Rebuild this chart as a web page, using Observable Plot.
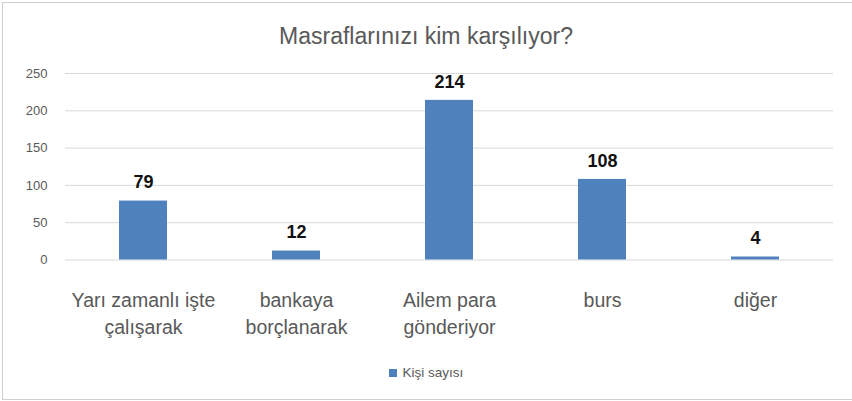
<!DOCTYPE html>
<html><head><meta charset="utf-8">
<script src="https://cdn.jsdelivr.net/npm/d3@7"></script>
<script src="https://cdn.jsdelivr.net/npm/@observablehq/plot@0.6"></script>
<style>
body{margin:0;background:#fff;font-family:"Liberation Sans",Arial,sans-serif;overflow:hidden;}
#frame{position:absolute;left:2px;top:2px;width:900px;height:396px;border:1px solid #d0d0d0;}
#title{position:absolute;left:0;top:24.5px;width:852px;text-align:center;font-size:23px;color:#595959;line-height:23px;white-space:nowrap;}
#chart{position:absolute;left:0;top:50px;}
#legend{position:absolute;top:365px;left:0;width:852px;text-align:center;font-size:13.5px;color:#595959;line-height:16px;white-space:nowrap;}
#legend .sw{display:inline-block;width:8px;height:8px;background:#4F81BD;margin-right:6px;position:relative;top:0px;}
</style></head>
<body>
<div id="frame"></div>
<div id="title"></div>
<div id="chart"></div>
<div id="legend"></div>
<script>
const titleText = "Masraflarınızı kim karşılıyor?";
const categories = ["Yarı zamanlı işte çalışarak","bankaya borçlanarak","Ailem para gönderiyor","burs","diğer"];
const tickLabels = ["Yarı zamanlı işte\nçalışarak","bankaya\nborçlanarak","Ailem para\ngönderiyor","burs","diğer"];
const values = [79,12,214,108,4];
const yTicks = [0,50,100,150,200,250];
const seriesName = "Kişi sayısı";

const data = categories.map((c,i)=>({category:c, value:values[i]}));
document.getElementById("title").textContent = titleText;
const lg = document.getElementById("legend");
lg.innerHTML = '<span class="sw"></span>';
lg.appendChild(document.createTextNode(seriesName));

const H = 300;
const chart = Plot.plot({
  width: 852, height: H,
  marginLeft: 65, marginRight: 19, marginTop: 23, marginBottom: H - 209.5,
  style: {color: "#595959", fontFamily: "'Liberation Sans', Arial, sans-serif", background: "transparent"},
  x: {domain: categories, paddingInner: 0.6875, paddingOuter: 0.34375, axis: null},
  y: {domain: [0, 250], axis: null},
  marks: [
    Plot.ruleY(yTicks, {stroke: "#d9d9d9"}),
    Plot.axisY({ticks: yTicks, tickSize: 0, tickPadding: 18, fontSize: 13, label: null}),
    Plot.axisX({tickFormat: d => tickLabels[categories.indexOf(d)], tickSize: 0, tickPadding: 27.5, fontSize: 19.5, lineHeight: 1.385, label: null}),
    Plot.barY(data, {x: "category", y: "value", fill: "#4F81BD"}),
    Plot.text(data, {x: "category", y: "value", text: d => String(d.value), lineAnchor: "bottom", dy: -12.6, fontWeight: "bold", fontSize: 18, fill: "#111"})
  ]
});
document.getElementById("chart").appendChild(chart);
</script>
</body></html>
